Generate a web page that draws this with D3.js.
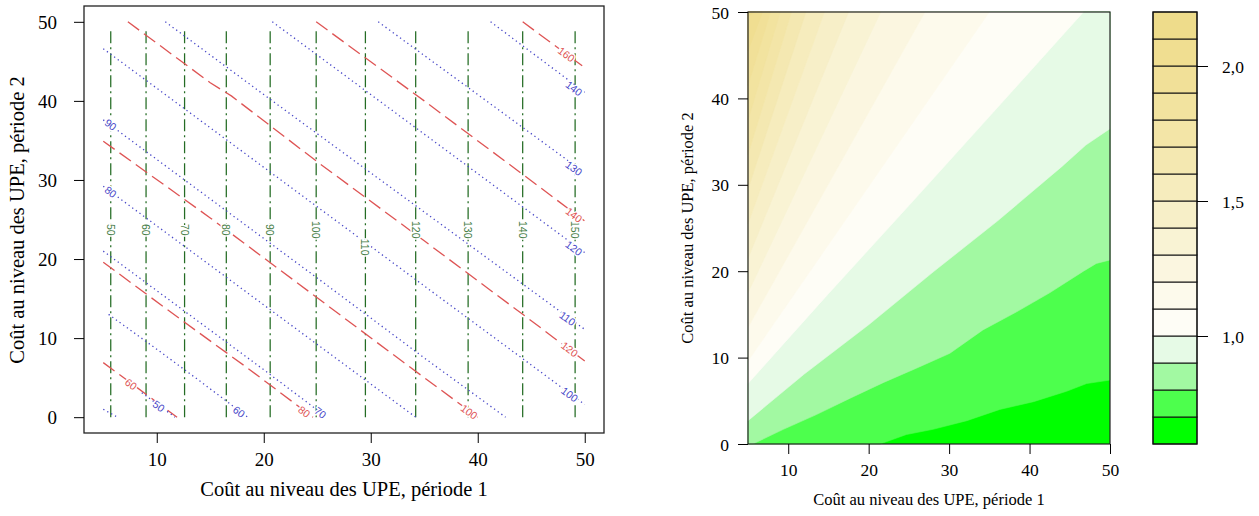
<!DOCTYPE html>
<html>
<head>
<meta charset="utf-8">
<script src="https://cdn.jsdelivr.net/npm/d3@7"></script>
<style>
  html, body { margin: 0; padding: 0; background: #fff; }
  svg { display: block; }
  .tick text, .ttl { font-family: "Liberation Serif", "Times New Roman", serif; fill: #000; }
  .left .tick text { font-size: 19px; }
  .left .ttl { font-size: 20.5px; }
  .right .tick text, .key .tick text { font-size: 17.5px; }
  .right .ttl { font-size: 16.5px; }
  .tick line { stroke: #000; }
  .clab { font-family: "Liberation Sans", Arial, sans-serif; font-size: 10.5px; }
</style>
</head>
<body>
<svg id="chart" width="1259" height="516"></svg>
<script>
// ---------------- shared ticks ----------------
const xTicks = [10, 20, 30, 40, 50];
const yTicks = [0, 10, 20, 30, 40, 50];
const xTitle = "Coût au niveau des UPE, période 1";
const yTitle = "Coût au niveau des UPE, période 2";

// ---------------- left panel: three families of contour lines ----------------
// green: vertical contours (levels by period-1 cost)
const greenLevels = [50, 60, 70, 80, 90, 100, 110, 120, 130, 140, 150];
const greenX      = [5.7, 9.0, 12.6, 16.5, 20.6, 24.9, 29.5, 34.2, 39.1, 44.2, 49.1];
const greenLabelY = [23.7, 23.7, 23.7, 23.7, 23.7, 23.7, 21.5, 23.7, 23.7, 23.7, 23.7];
const greenTop = 48.8;

// red: long-dashed contours
const redLevels = [60, 80, 100, 120, 140, 160];
const redLines = [
  [[[5.0, 6.9], [7.6, 4.3], [10.0, 1.9], [11.9, 0]]],
  [[[5.0, 19.6], [12.6, 12.0], [18.5, 6.2], [24.6, 0]]],
  [[[5.0, 34.9], [15.0, 25.2], [25.0, 15.1], [33.0, 7.0], [40.0, 0]]],
  [[[7.3, 50], [15.0, 42.3], [17.0, 40.6], [25.0, 32.3], [35.0, 22.3], [45.0, 12.2], [50, 7.1]]],
  [[[24.9, 50], [35.0, 40.0], [45.0, 29.9], [50, 24.8]]],
  [[[44.2, 50], [50, 44.2]]]
];
const redLabelPos = [[7.6, 4.2], [23.8, 0.7], [39.2, 0.7], [48.6, 8.6], [49.0, 25.6], [48.3, 45.9]];

// blue: dotted contours
const blueLevels = [50, 60, 70, 80, 90, 100, 110, 120, 130, 140];
const blueLines = [
  [[[5.0, 1.0], [6.2, 0.1]], [[8.6, 3.1], [10.2, 1.5], [11.7, 0]]],
  [[[5.5, 13.0], [10.0, 8.6], [14.0, 4.6], [18.5, 0]]],
  [[[5.0, 21.0], [12.0, 14.0], [20.0, 6.0], [25.9, 0]]],
  [[[5.0, 29.2], [15.0, 19.2], [25.0, 9.2], [34.2, 0]]],
  [[[5.0, 37.6], [15.0, 27.6], [25.0, 17.6], [35.0, 7.5], [42.6, 0]]],
  [[[5.0, 46.6], [15.0, 36.6], [25.0, 26.6], [35.0, 16.6], [45.0, 6.6], [50, 1.6]]],
  [[[10.8, 50], [20.0, 40.8], [30.0, 30.9], [40.0, 21.0], [50, 11.1]]],
  [[[20.8, 50], [30.0, 40.8], [40.0, 30.8], [50, 20.8]]],
  [[[30.7, 50], [40.0, 40.8], [50, 30.9]]],
  [[[41.2, 50], [50, 41.1]]]
];
const blueLabelPos = [[10.2, 1.4], [17.7, 0.7], [25.3, 0.6], [5.7, 28.5], [5.7, 37.0],
                      [48.6, 2.9], [48.4, 12.5], [49.0, 21.4], [49.0, 31.5], [49.0, 41.6]];

// ---------------- right panel: filled contours ----------------
const fillLevels = [0.6, 0.7, 0.8, 0.9, 1.0, 1.1, 1.2, 1.3, 1.4, 1.5, 1.6, 1.7, 1.8, 1.9, 2.0, 2.1, 2.2];
const fillColors = ["#00FF00", "#4DFF4D", "#A2F9A2", "#E6FAE6",
                    "#FEFDF6", "#FDFAEC", "#FBF6E0", "#F9F3D4", "#F7EFC8", "#F6ECBD",
                    "#F4E8B1", "#F3E5A7", "#F2E39F", "#F1E098", "#F0DE91", "#EEDC8B"];
// boundary of each level from 0.7 to 2.1, running from the bottom/left edge to the right/top edge
const levelEdges = [
  [[21.4, 0], [24.7, 1.1], [28.0, 1.7], [32.2, 2.7], [36.3, 4.0], [40.5, 4.9], [44.6, 6.1], [47.1, 7.0], [50, 7.4]],
  [[5.6, 0], [9.4, 1.7], [13.5, 3.4], [17.7, 5.3], [21.8, 7.1], [26.0, 8.8], [30.1, 10.5], [34.2, 13.2],
   [38.4, 15.3], [42.5, 17.5], [46.7, 20.0], [48.3, 20.9], [50, 21.3]],
  [[5, 2.7], [12.0, 8.1], [20.0, 13.8], [28.0, 19.9], [36.0, 25.8], [44.0, 32.1], [47.0, 34.6], [50, 36.5]],
  [[5, 7.0], [15.0, 17.4], [25.0, 27.6], [35.0, 37.9], [46.7, 50]],
  [[5, 9.6], [35.0, 50]],
  [[5, 13.5], [27.0, 50]],
  [[5, 17.5], [21.5, 50]],
  [[5, 21.5], [17.5, 50]],
  [[5, 25.5], [14.5, 50]],
  [[5, 29.5], [12.2, 50]],
  [[5, 33.5], [10.4, 50]],
  [[5, 37.5], [9.0, 50]],
  [[5, 41.5], [7.8, 50]],
  [[5, 45.5], [6.8, 50]],
  [[5, 49.5], [5.9, 50]]
];
const keyTicks = [1.0, 1.5, 2.0];

// ---------------- drawing ----------------
const svg = d3.select("#chart");
const redCol = "#de5454", blueCol = "#4848c8", greenCol = "#246c24", greenText = "#447c44";

function styleAxis(g) {
  g.select(".domain").remove();
  g.attr("font-family", null).attr("font-size", null);
}

// ===== left panel =====
const xL = d3.scaleLinear().domain([3.2, 51.8]).range([84, 604]);
const yL = d3.scaleLinear().domain([-2, 52]).range([433, 6]);
const lineL = d3.line().x(d => xL(d[0])).y(d => yL(d[1]));
const gL = svg.append("g").attr("class", "left");

greenX.forEach(x => {
  gL.append("path").attr("d", lineL([[x, greenTop], [x, 0]]))
    .attr("fill", "none").attr("stroke", greenCol).attr("stroke-width", 1.25)
    .attr("stroke-dasharray", "12 4 2 4");
});
redLines.forEach(segs => segs.forEach(s => {
  gL.append("path").attr("d", lineL(s)).attr("fill", "none")
    .attr("stroke", redCol).attr("stroke-width", 1.3).attr("stroke-dasharray", "14 6");
}));
blueLines.forEach(segs => segs.forEach(s => {
  gL.append("path").attr("d", lineL(s)).attr("fill", "none")
    .attr("stroke", blueCol).attr("stroke-width", 1.3).attr("stroke-dasharray", "1.3 3.2");
}));

// angle (degrees, screen space) of the contour segment next to a label
function labelAngle(segs, p) {
  let best = null, bestD = Infinity;
  segs.forEach(s => {
    for (let i = 0; i < s.length - 1; i++) {
      const a = s[i], b = s[i + 1];
      const mx = (a[0] + b[0]) / 2, my = (a[1] + b[1]) / 2;
      const d = (mx - p[0]) ** 2 + (my - p[1]) ** 2;
      if (d < bestD) { bestD = d; best = [a, b]; }
    }
  });
  const [a, b] = best;
  return Math.atan2(yL(b[1]) - yL(a[1]), xL(b[0]) - xL(a[0])) * 180 / Math.PI;
}
function contourLabel(text, p, angle, color) {
  gL.append("text").attr("class", "clab")
    .attr("transform", `translate(${xL(p[0])},${yL(p[1])}) rotate(${angle})`)
    .attr("text-anchor", "middle").attr("dominant-baseline", "central")
    .attr("fill", color).attr("stroke", "#fff").attr("stroke-width", 3)
    .attr("paint-order", "stroke").text(text);
}
greenLevels.forEach((lv, i) => contourLabel(lv, [greenX[i], greenLabelY[i]], 90, greenText));
redLevels.forEach((lv, i) => contourLabel(lv, redLabelPos[i], labelAngle(redLines[i], redLabelPos[i]), redCol));
blueLevels.forEach((lv, i) => contourLabel(lv, blueLabelPos[i], labelAngle(blueLines[i], blueLabelPos[i]), blueCol));

gL.append("rect").attr("x", 84).attr("y", 6).attr("width", 520).attr("height", 427)
  .attr("fill", "none").attr("stroke", "#222").attr("stroke-width", 1.3);
gL.append("g").attr("transform", "translate(0,433)")
  .call(d3.axisBottom(xL).tickValues(xTicks).tickSize(10).tickPadding(9.5))
  .call(styleAxis);
gL.append("g").attr("transform", "translate(84,0)")
  .call(d3.axisLeft(yL).tickValues(yTicks).tickSize(10).tickPadding(17))
  .call(styleAxis)
  .call(g => g.selectAll("text").attr("dy", "0.35em"));
gL.append("text").attr("class", "ttl").attr("x", 344).attr("y", 496).attr("text-anchor", "middle").text(xTitle);
gL.append("text").attr("class", "ttl").attr("transform", "translate(24,220) rotate(-90)")
  .attr("text-anchor", "middle").text(yTitle);

// ===== right panel =====
const xR = d3.scaleLinear().domain([5, 50]).range([748, 1110]);
const yR = d3.scaleLinear().domain([0, 50]).range([444, 12]);
const gR = svg.append("g").attr("class", "right");
const pathR = d3.line().x(d => xR(d[0])).y(d => yR(d[1]));

// region lying on the upper-left side of a level boundary
function upperRegion(pts) {
  const p = pts.slice();
  const start = p[0], end = p[p.length - 1];
  if (end[0] >= 50 && end[1] < 50) p.push([50, 50]);
  p.push([5, 50]);
  if (start[1] <= 0 && start[0] > 5) p.push([5, 0]);
  return p;
}
gR.append("rect").attr("x", xR(5)).attr("y", yR(50))
  .attr("width", xR(50) - xR(5)).attr("height", yR(0) - yR(50)).attr("fill", fillColors[0]);
levelEdges.forEach((edge, i) => {
  gR.append("path").attr("d", pathR(upperRegion(edge)) + "Z")
    .attr("fill", fillColors[i + 1]).attr("stroke", fillColors[i + 1]).attr("stroke-width", 0.6);
});
gR.append("rect").attr("x", xR(5)).attr("y", yR(50))
  .attr("width", xR(50) - xR(5)).attr("height", yR(0) - yR(50))
  .attr("fill", "none").attr("stroke", "#222").attr("stroke-width", 1.2);
gR.append("g").attr("transform", `translate(0,${yR(0)})`)
  .call(d3.axisBottom(xR).tickValues(xTicks).tickSize(10).tickPadding(9.5))
  .call(styleAxis);
gR.append("g").attr("transform", `translate(${xR(5)},0)`)
  .call(d3.axisLeft(yR).tickValues(yTicks).tickSize(10).tickPadding(9))
  .call(styleAxis)
  .call(g => g.selectAll("text").attr("dy", "0.35em"));
gR.append("text").attr("class", "ttl").attr("x", (xR(5) + xR(50)) / 2).attr("y", 505)
  .attr("text-anchor", "middle").text(xTitle);
gR.append("text").attr("class", "ttl").attr("transform", `translate(693,${(yR(0) + yR(50)) / 2}) rotate(-90)`)
  .attr("text-anchor", "middle").text(yTitle);

// ===== colour key =====
const yK = d3.scaleLinear().domain([0.6, 2.2]).range([444, 12]);
const gK = svg.append("g").attr("class", "key");
const kx0 = 1153, kx1 = 1197;
gK.selectAll("rect.bin").data(fillColors).join("rect").attr("class", "bin")
  .attr("x", kx0).attr("width", kx1 - kx0)
  .attr("y", (d, i) => yK(fillLevels[i + 1])).attr("height", (d, i) => yK(fillLevels[i]) - yK(fillLevels[i + 1]))
  .attr("fill", d => d).attr("stroke", "#111").attr("stroke-width", 1);
gK.append("rect").attr("x", kx0).attr("y", yK(2.2)).attr("width", kx1 - kx0).attr("height", yK(0.6) - yK(2.2))
  .attr("fill", "none").attr("stroke", "#111").attr("stroke-width", 1.2);
gK.append("g").attr("transform", `translate(${kx1},0)`)
  .call(d3.axisRight(yK).tickValues(keyTicks).tickSize(11).tickPadding(14)
    .tickFormat(d => d3.format(".1f")(d).replace(".", ",")))
  .call(styleAxis)
  .call(g => g.selectAll("text").attr("dy", "0.35em"));
</script>
</body>
</html>
